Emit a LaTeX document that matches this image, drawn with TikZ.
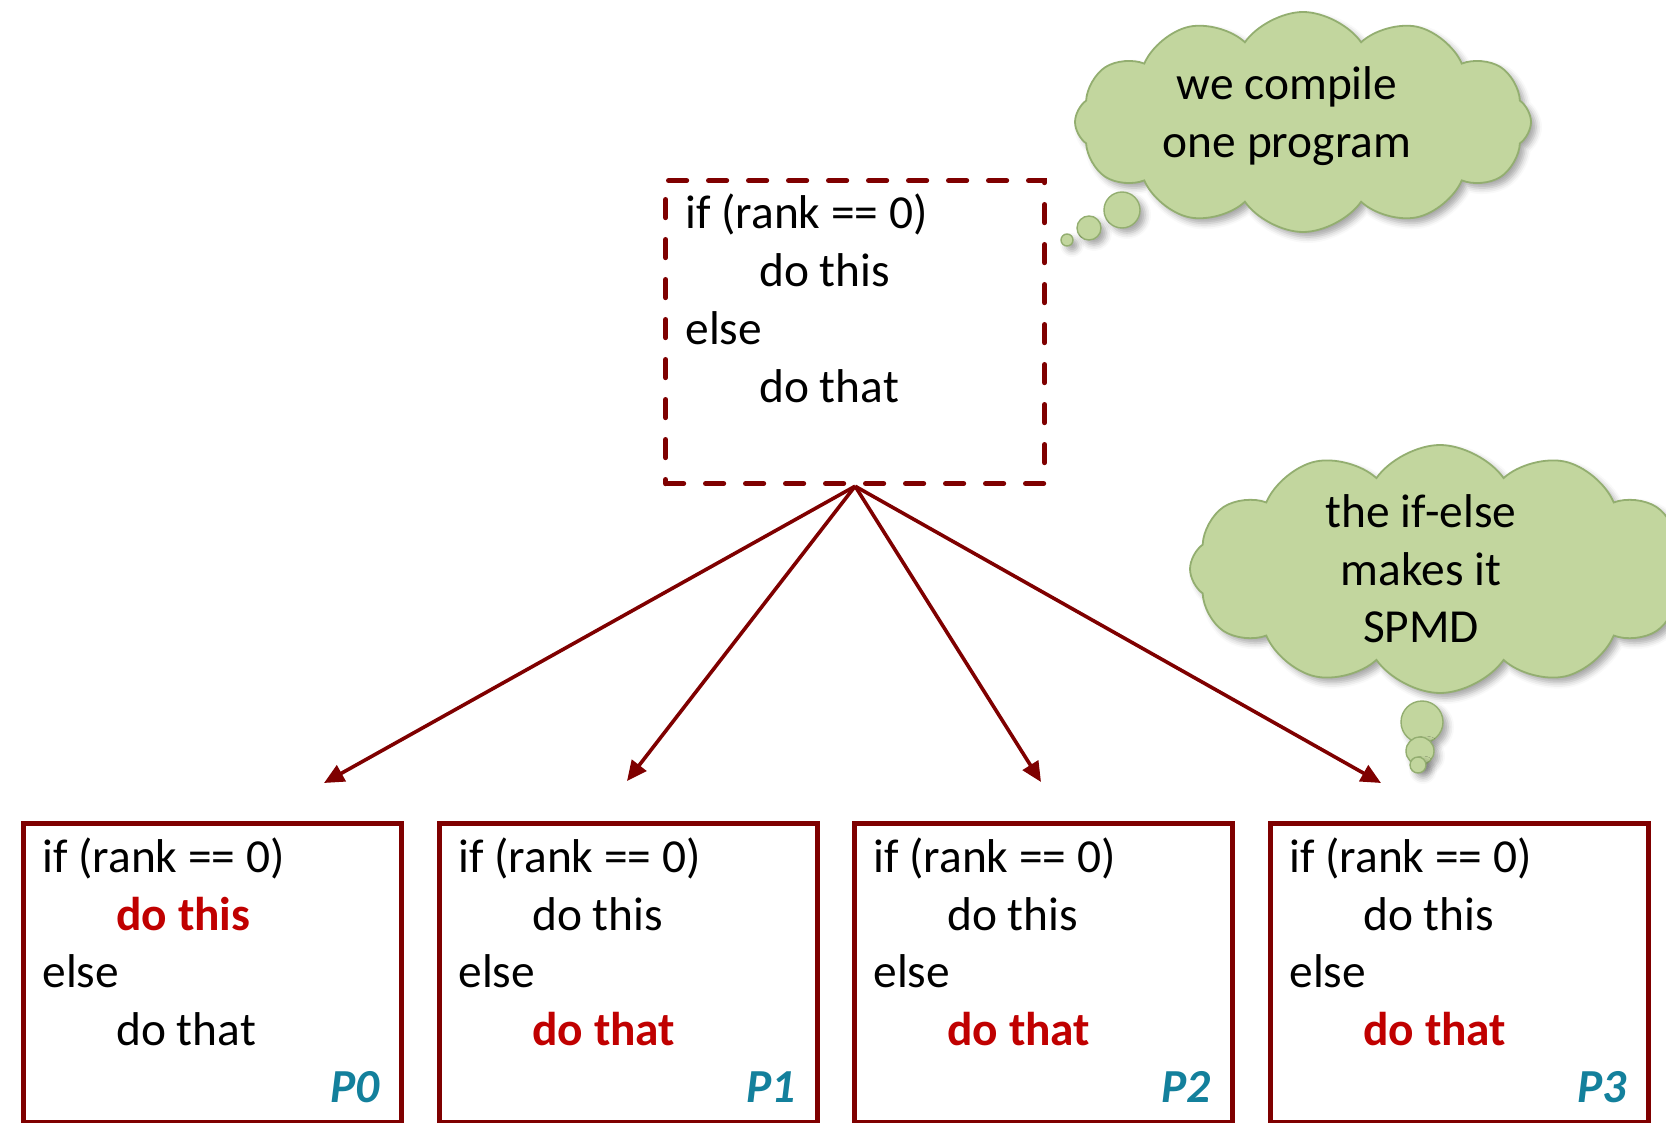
\documentclass[tikz,border=0pt]{standalone}
\usepackage{fontspec}
\setmainfont{Carlito}
\usetikzlibrary{arrows.meta,shapes.symbols,shadows.blur}

\definecolor{boxred}{HTML}{7F0000}
\definecolor{hot}{HTML}{C00000}
\definecolor{proc}{HTML}{13809C}
\definecolor{cloudfill}{HTML}{C2D69E}
\definecolor{cloudedge}{HTML}{93AE70}

\tikzset{
  txt/.style={font=\fontsize{23.7pt}{28.9pt}\selectfont, inner sep=0pt},
  code/.style={txt, anchor=base west},
  hotline/.style={text=hot, font=\fontsize{23.7pt}{28.9pt}\selectfont\bfseries},
  proglabel/.style={txt, text=proc, font=\fontsize{23.7pt}{28.9pt}\selectfont\bfseries\itshape, anchor=base east},
  procbox/.style={draw=boxred, line width=2.6pt, minimum width=189pt, minimum height=149.5pt,
    anchor=north west, inner sep=0pt},
  srcbox/.style={draw=boxred, line width=2.6pt, dash pattern=on 9pt off 11pt, line cap=round,
    minimum width=189.5pt, minimum height=151.5pt, anchor=north west, inner sep=0pt},
  fanout/.style={draw=boxred, line width=1.8pt, -{Triangle[length=10pt,width=9pt]}},
  shade3d/.style={blur shadow={shadow xshift=2.5pt, shadow yshift=-2.5pt, shadow blur radius=3pt, shadow opacity=35}},
  thought/.style={cloud, cloud puffs=12, cloud puff arc=110, cloud ignores aspect, fill=cloudfill,
    draw=cloudedge, line width=0.9pt, inner sep=0pt, shade3d},
  bubble/.style={circle, fill=cloudfill, draw=cloudedge, line width=0.7pt, inner sep=0pt, shade3d},
  thoughttext/.style={txt, anchor=base},
}

% one process box: name, left x, style of the "this" line, style of the "that" line, label
\newcommand\drawproc[5]{%
  \node[procbox] (#1) at (#2,821) {};
  \node[code] (#1-if) at (#2+21,872) {if (rank == 0)};
  \node[code,#3] (#1-this) at (#2+95,930) {do this};
  \node[code] (#1-else) at (#2+21,987) {else};
  \node[code,#4] (#1-that) at (#2+95,1045) {do that};
  \node[proglabel] (#1-label) at (#2+359,1102) {#5};
}

\begin{document}
\begin{tikzpicture}[x=0.5pt, y=-0.5pt]
  \useasboundingbox (0,0) rectangle (1666,1123);

  % the single source program
  \node[srcbox] (src) at (663,178) {};
  \node[code] (src-if) at (685,229) {if (rank == 0)};
  \node[code] (src-this) at (759,287) {do this};
  \node[code] (src-else) at (685,344) {else};
  \node[code] (src-that) at (759,402) {do that};

  % four processes running it
  \drawproc{p0}{21}{hotline}{}{P0}
  \drawproc{p1}{437}{}{hotline}{P1}
  \drawproc{p2}{852}{}{hotline}{P2}
  \drawproc{p3}{1268}{}{hotline}{P3}

  % arrow targets above the process boxes
  \coordinate (t0) at (324,783);
  \coordinate (t1) at (627,781);
  \coordinate (t2) at (1041,782);
  \coordinate (t3) at (1381,783);
  \foreach \i in {0,1,2,3} \draw[fanout] (src.south) -- (t\i);

  % thought cloud: compilation
  \node[thought, minimum width=228pt, minimum height=110pt] (c1) at (1303,122) {};
  \node[bubble, minimum size=18pt] (c1-b1) at (1122,210) {};
  \node[bubble, minimum size=12pt] (c1-b2) at (1089,228) {};
  \node[bubble, minimum size=6pt] (c1-b3) at (1067,240) {};
  \node[thoughttext] (c1-l1) at (1287,100) {we compile};
  \node[thoughttext] (c1-l2) at (1287,158) {one program};

  % thought cloud: SPMD
  \node[thought, minimum width=250pt, minimum height=124pt] (c2) at (1440,569) {};
  \node[bubble, minimum size=21pt] (c2-b1) at (1422,722) {};
  \node[bubble, minimum size=14pt] (c2-b2) at (1420,751) {};
  \node[bubble, minimum size=8pt] (c2-b3) at (1418,765) {};
  \node[thoughttext] (c2-l1) at (1421,527) {the if-else};
  \node[thoughttext] (c2-l2) at (1421,585) {makes it};
  \node[thoughttext] (c2-l3) at (1421,642) {SPMD};
\end{tikzpicture}
\end{document}
